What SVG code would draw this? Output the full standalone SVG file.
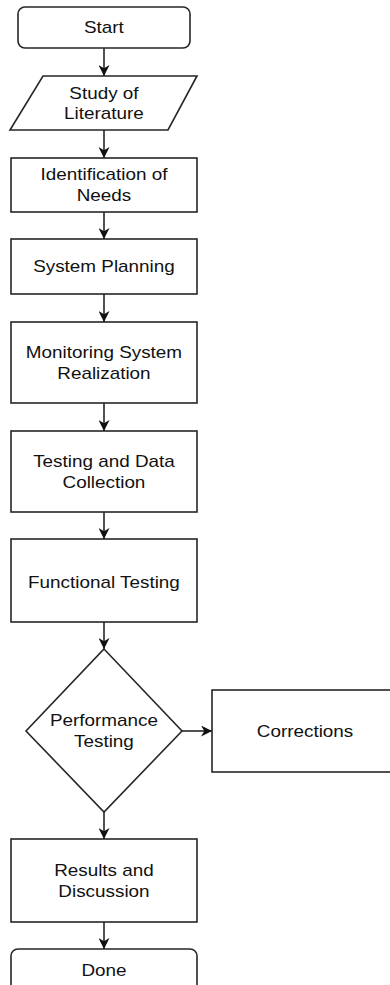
<svg xmlns="http://www.w3.org/2000/svg" width="390" height="985" viewBox="0 0 390 985">
<style>
.n{fill:#fff;stroke:#262626;stroke-width:1.6}
.e{fill:none;stroke:#262626;stroke-width:1.6}
.t{font-family:"Liberation Sans",Arial,sans-serif;font-size:16px;fill:#111;text-anchor:middle}
</style>
<defs>
<marker id="ah" viewBox="0 0 10 10" refX="10" refY="5" markerWidth="11" markerHeight="11" markerUnits="userSpaceOnUse" orient="auto">
<path d="M0,0 L10,5 L0,10 L3,5 z" fill="#111"/>
</marker>
</defs>
<rect width="390" height="985" fill="#fff"/>
<g id="connectors">
<line class="e" x1="104" y1="48" x2="104" y2="76" marker-end="url(#ah)"/>
<line class="e" x1="104" y1="130" x2="104" y2="158" marker-end="url(#ah)"/>
<line class="e" x1="104" y1="212" x2="104" y2="239" marker-end="url(#ah)"/>
<line class="e" x1="104" y1="294" x2="104" y2="322" marker-end="url(#ah)"/>
<line class="e" x1="104" y1="403" x2="104" y2="431" marker-end="url(#ah)"/>
<line class="e" x1="104" y1="512" x2="104" y2="539" marker-end="url(#ah)"/>
<line class="e" x1="104" y1="622" x2="104" y2="649" marker-end="url(#ah)"/>
<line class="e" x1="182" y1="731" x2="212" y2="731" marker-end="url(#ah)"/>
<line class="e" x1="104" y1="812" x2="104" y2="839" marker-end="url(#ah)"/>
<line class="e" x1="104" y1="922" x2="104" y2="949" marker-end="url(#ah)"/>
</g>
<g id="start"><rect class="n" x="18" y="7" width="172" height="41" rx="7"/></g>
<g id="literature"><polygon class="n" points="43,76 197,76 168,130 10,130"/></g>
<g id="needs"><rect class="n" x="11" y="158" width="186" height="54"/></g>
<g id="planning"><rect class="n" x="11" y="239" width="186" height="55"/></g>
<g id="realization"><rect class="n" x="11" y="322" width="186" height="81"/></g>
<g id="collection"><rect class="n" x="11" y="431" width="186" height="81"/></g>
<g id="functional"><rect class="n" x="11" y="539" width="186" height="83"/></g>
<g id="performance"><polygon class="n" points="104,649 182,731 104,812 26,731"/></g>
<g id="corrections"><rect class="n" x="212" y="690" width="186" height="82"/></g>
<g id="results"><rect class="n" x="11" y="839" width="186" height="83"/></g>
<g id="done"><rect class="n" x="11" y="949" width="186" height="60" rx="7"/></g>
<g id="labels" transform="scale(1.18 1)">
<text class="t" x="88.1" y="33">Start</text>
<text class="t" x="88.1" y="99">Study of</text>
<text class="t" x="88.1" y="119">Literature</text>
<text class="t" x="88.1" y="180">Identification of</text>
<text class="t" x="88.1" y="201">Needs</text>
<text class="t" x="88.1" y="272">System Planning</text>
<text class="t" x="88.1" y="358">Monitoring System</text>
<text class="t" x="88.1" y="379">Realization</text>
<text class="t" x="88.1" y="467">Testing and Data</text>
<text class="t" x="88.1" y="488">Collection</text>
<text class="t" x="88.1" y="588">Functional Testing</text>
<text class="t" x="88.1" y="726">Performance</text>
<text class="t" x="88.1" y="747">Testing</text>
<text class="t" x="258.5" y="737">Corrections</text>
<text class="t" x="88.1" y="876">Results and</text>
<text class="t" x="88.1" y="897">Discussion</text>
<text class="t" x="88.1" y="976">Done</text>
</g>
</svg>
